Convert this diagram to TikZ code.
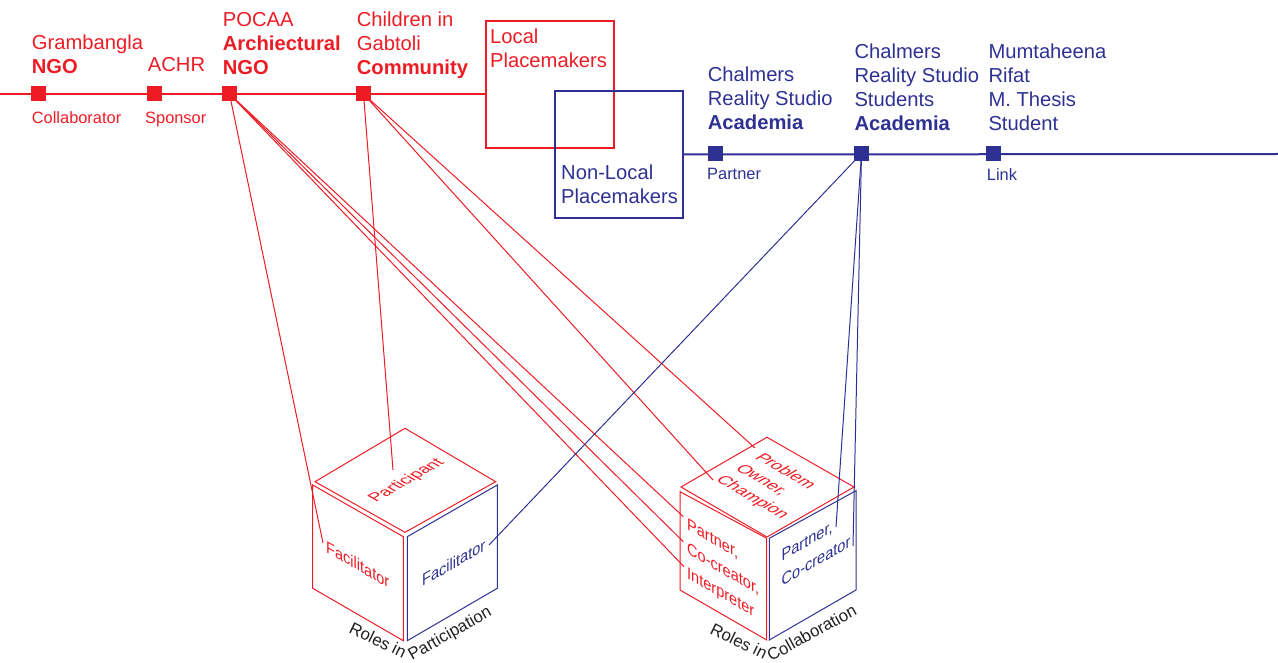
\documentclass[tikz,border=0pt]{standalone}
\usepackage{fontspec}
\setmainfont{Liberation Sans}
\definecolor{ired}{HTML}{ED1C24}
\definecolor{iblue}{HTML}{2E3192}
\definecolor{ink}{HTML}{231F20}
% left-aligned stack of lines whose baseline is the first line's baseline
\newcommand{\lns}[1]{\vtop{\halign{##\hfil\cr#1\crcr}}}

\begin{document}
\begin{tikzpicture}[x=1pt,y=-1pt,
  sq/.style={minimum size=15pt, inner sep=0pt, draw=none, fill=#1},
  lbl/.style={inner sep=0pt, anchor=base west, font=\fontsize{20.2}{24}\selectfont},
  tag/.style={inner sep=0pt, anchor=base west, font=\fontsize{16.4}{20}\selectfont},
  facetext/.style={inner sep=0pt, anchor=base west, transform shape},
  roles/.style={inner sep=0pt, anchor=base west, text=ink, font=\fontsize{16.8}{20}\selectfont},
  conn/.style={line width=1pt},
  cubeline/.style={line width=1pt, line join=miter},
  mainline/.style={line width=2pt},
  pmbox/.style={draw, line width=2pt, inner sep=0pt, anchor=north west},
  leftface/.style={cm={0.866,-0.5,0,1,(0,0)}},
  rightface/.style={cm={0.866,0.5,0,1,(0,0)}},
  topdown/.style={cm={0.866,-0.5,0.866,0.5,(0,0)}},
  topup/.style={cm={0.866,0.5,-0.866,0.5,(0,0)}},
]
\useasboundingbox (0,0) rectangle (1278,663);

% ---- placemaker boxes ----
\node[pmbox, draw=ired, minimum width=128pt, minimum height=127pt] (local) at (485,20) {};
\node[pmbox, draw=iblue, minimum width=128pt, minimum height=127pt] (nonlocal) at (554,90) {};
\node[lbl, text=ired] (localtxt) at (490,44) {\lns{Local\cr Placemakers}};
\node[lbl, text=iblue] (nonlocaltxt) at (561,180) {\lns{Non-Local\cr Placemakers}};

% ---- the two time lines ----
\coordinate (redstart) at (0,94);
\coordinate (blueend) at (1278,154);
\draw[mainline, ired] (redstart) -- (redstart -| local.west);
\draw[mainline, iblue] (nonlocal.east) -- (blueend);

% ---- local actors ----
\node[sq=ired] (grb) at (38.5,94) {};
\node[sq=ired] (achr) at (154.5,94) {};
\node[sq=ired] (pocaa) at (229.5,94) {};
\node[sq=ired] (child) at (363.5,94) {};

\node[lbl, text=ired] (grbtxt) at (31.7,50) {\lns{Grambangla\cr\bfseries NGO}};
\node[lbl, text=ired] (achrtxt) at (147.7,71.7) {ACHR};
\node[lbl, text=ired] (pocaatxt) at (222.7,26.7) {\lns{POCAA\cr\bfseries Archiectural\cr\bfseries NGO}};
\node[lbl, text=ired] (childtxt) at (356.7,26.7) {\lns{Children in\cr Gabtoli\cr\bfseries Community}};
\node[tag, text=ired] (grbrole) at (31.7,124) {Collaborator};
\node[tag, text=ired] (achrrole) at (145,124) {Sponsor};

% ---- non-local actors ----
\node[sq=iblue] (crs) at (715,153.5) {};
\node[sq=iblue] (stud) at (861.5,153.5) {};
\node[sq=iblue] (thesis) at (993.5,154) {};

\node[lbl, text=iblue] (crstxt) at (707.7,81.7) {\lns{Chalmers\cr Reality Studio\cr\bfseries Academia}};
\node[lbl, text=iblue] (studtxt) at (854.3,58.3) {\lns{Chalmers\cr Reality Studio\cr Students\cr\bfseries Academia}};
\node[lbl, text=iblue] (thesistxt) at (988.3,58.3) {\lns{Mumtaheena\cr Rifat\cr M. Thesis\cr Student}};
\node[tag, text=iblue] (crsrole) at (707,180) {Partner};
\node[tag, text=iblue] (thesisrole) at (986.7,180.7) {Link};

% ---- cube: roles in participation ----
\draw[cubeline, ired] (405,428.3) -- (495.7,481.7) -- (405,532.3) -- (315,481.7) -- cycle;
\draw[cubeline, ired] (312.7,485) -- (403.3,536.7) -- (403.3,640.7) -- (312.7,588.3) -- cycle;
\draw[cubeline, iblue] (407.3,536.7) -- (497.3,485) -- (497.3,588.3) -- (407.3,640.7) -- cycle;

\begin{scope}[shift={(376,503)}, topup]
  \node[facetext, text=ired, font=\fontsize{16.8}{24}\selectfont] (participant) at (0,0) {Participant};
\end{scope}
\begin{scope}[shift={(326,552)}, leftface]
  \node[facetext, text=ired, font=\fontsize{16.8}{24}\selectfont] (facred) at (0,0) {Facilitator};
\end{scope}
\begin{scope}[shift={(422,587)}, rightface]
  \node[facetext, text=iblue, font=\fontsize{16.8}{24}\selectfont] (facblue) at (0,0) {Facilitator};
\end{scope}
\node[roles, rotate=-26] (rolesa) at (348,632) {Roles in};
\node[roles, rotate=29.5] (partic) at (412,661) {Participation};

% ---- cube: roles in collaboration ----
\draw[cubeline, ired] (767,437.3) -- (854,487) -- (767,537) -- (681,487) -- cycle;
\draw[cubeline, ired] (680,491.7) -- (766.7,538.3) -- (766.7,640) -- (680,590) -- cycle;
\draw[cubeline, iblue] (769.3,538.3) -- (856,490.7) -- (856,590) -- (769.3,640) -- cycle;

\begin{scope}[shift={(754,458)}, topdown]
  \node[facetext, text=ired, font=\fontsize{16.8}{22.5}\selectfont] (owner) at (0,0) {\lns{Problem\cr Owner,\cr Champion}};
\end{scope}
\begin{scope}[shift={(687,529)}, leftface]
  \node[facetext, text=ired, font=\fontsize{16.8}{24.5}\selectfont] (cocreatred) at (0,0) {\lns{Partner,\cr Co-creator,\cr Interpreter}};
\end{scope}
\begin{scope}[shift={(781.5,561.5)}, rightface]
  \node[facetext, text=iblue, font=\fontsize{16.8}{25}\selectfont] (cocreatblue) at (0,0) {\lns{Partner,\cr Co-creator}};
\end{scope}
\node[roles, rotate=-26] (rolesb) at (709,633) {Roles in};
\node[roles, rotate=28.8] (collab) at (771,662) {Collaboration};

% ---- connector end points on the cubes ----
\coordinate (facR) at (323,543);
\coordinate (particE) at (393,470);
\coordinate (partR) at (683.3,516.7);
\coordinate (coR) at (683.3,541.7);
\coordinate (intR) at (684,566.7);
\coordinate (probE) at (755,448);
\coordinate (champE) at (713,480);
\coordinate (facB) at (489,545);
\coordinate (partB) at (836,527);
\coordinate (coB) at (853,546);

% ---- connectors ----
\draw[conn, ired] (pocaa.center) -- (facR);
\draw[conn, ired] (pocaa.center) -- (partR);
\draw[conn, ired] (pocaa.center) -- (coR);
\draw[conn, ired] (pocaa.center) -- (intR);
\draw[conn, ired] (child.center) -- (particE);
\draw[conn, ired] (child.center) -- (probE);
\draw[conn, ired] (child.center) -- (champE);
\draw[conn, iblue] (stud.center) -- (facB);
\draw[conn, iblue] (stud.center) -- (partB);
\draw[conn, iblue] (stud.center) -- (coB);
\end{tikzpicture}
\end{document}
